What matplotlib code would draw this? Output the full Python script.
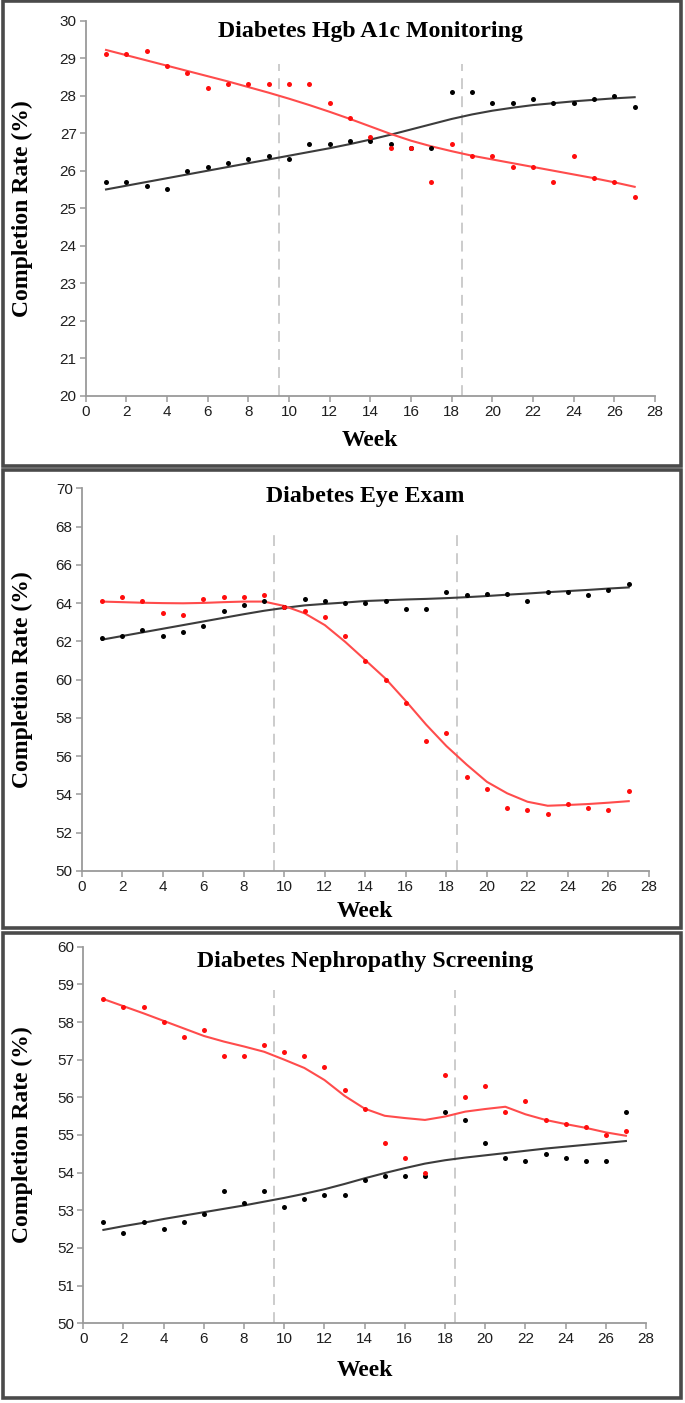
import matplotlib
matplotlib.use('Agg')
import matplotlib.pyplot as plt
from matplotlib.patches import Rectangle

# data
weeks = list(range(1, 28))

a1c_black = [25.7, 25.7, 25.6, 25.5, 26.0, 26.1, 26.2, 26.3, 26.4, 26.3, 26.7, 26.7, 26.8, 26.8,
             26.7, 26.6, 26.6, 28.1, 28.1, 27.8, 27.8, 27.9, 27.8, 27.8, 27.9, 28.0, 27.7]
a1c_red = [29.1, 29.1, 29.2, 28.8, 28.6, 28.2, 28.3, 28.3, 28.3, 28.3, 28.3, 27.8, 27.4, 26.9,
           26.6, 26.6, 25.7, 26.7, 26.4, 26.4, 26.1, 26.1, 25.7, 26.4, 25.8, 25.7, 25.3]
a1c_black_fit = [25.50, 25.60, 25.70, 25.80, 25.90, 26.00, 26.10, 26.20, 26.30, 26.40, 26.50, 26.60,
                 26.71, 26.83, 26.96, 27.10, 27.24, 27.38, 27.50, 27.60, 27.68, 27.75, 27.80, 27.85,
                 27.89, 27.93, 27.96]
a1c_red_fit = [29.22, 29.08, 28.94, 28.80, 28.66, 28.52, 28.38, 28.23, 28.08, 27.92, 27.75, 27.57,
               27.38, 27.18, 26.98, 26.80, 26.65, 26.52, 26.40, 26.30, 26.20, 26.10, 26.00, 25.90,
               25.80, 25.69, 25.57]

eye_black = [62.2, 62.3, 62.6, 62.3, 62.5, 62.8, 63.6, 63.9, 64.1, 63.8, 64.2, 64.1, 64.0, 64.0,
             64.1, 63.7, 63.7, 64.6, 64.4, 64.5, 64.5, 64.1, 64.6, 64.6, 64.4, 64.7, 65.0]
eye_red = [64.1, 64.3, 64.1, 63.5, 63.4, 64.2, 64.3, 64.3, 64.4, 63.8, 63.6, 63.3, 62.3, 61.0,
           60.0, 58.8, 56.8, 57.2, 54.9, 54.3, 53.3, 53.2, 53.0, 53.5, 53.3, 53.2, 54.2]
eye_black_fit = [62.09, 62.28, 62.47, 62.66, 62.85, 63.04, 63.23, 63.42, 63.60, 63.75, 63.88, 63.96,
                 64.03, 64.11, 64.15, 64.19, 64.22, 64.26, 64.31, 64.37, 64.44, 64.50, 64.57, 64.63,
                 64.69, 64.76, 64.82]
eye_red_fit = [64.08, 64.05, 64.02, 64.00, 63.99, 64.01, 64.05, 64.08, 64.08, 63.85, 63.47, 62.85,
               61.98, 61.02, 60.05, 58.88, 57.65, 56.53, 55.56, 54.66, 54.06, 53.62, 53.41, 53.45,
               53.50, 53.57, 53.65]

neph_black = [52.7, 52.4, 52.7, 52.5, 52.7, 52.9, 53.5, 53.2, 53.5, 53.1, 53.3, 53.4, 53.4, 53.8,
              53.9, 53.9, 53.9, 55.6, 55.4, 54.8, 54.4, 54.3, 54.5, 54.4, 54.3, 54.3, 55.6]
neph_red = [58.6, 58.4, 58.4, 58.0, 57.6, 57.8, 57.1, 57.1, 57.4, 57.2, 57.1, 56.8, 56.2, 55.7,
            54.8, 54.4, 54.0, 56.6, 56.0, 56.3, 55.6, 55.9, 55.4, 55.3, 55.2, 55.0, 55.1]
neph_black_fit = [52.48, 52.58, 52.67, 52.77, 52.86, 52.95, 53.04, 53.13, 53.23, 53.33, 53.44, 53.56,
                  53.70, 53.85, 53.99, 54.12, 54.24, 54.33, 54.40, 54.46, 54.52, 54.58, 54.64, 54.69,
                  54.74, 54.79, 54.84]
neph_red_fit = [58.61, 58.42, 58.23, 58.03, 57.83, 57.63, 57.48, 57.35, 57.21, 57.00, 56.78, 56.46,
                56.04, 55.70, 55.51, 55.45, 55.40, 55.49, 55.62, 55.69, 55.75, 55.55, 55.40, 55.29,
                55.19, 55.07, 54.98]

titles = ['Diabetes Hgb A1c Monitoring', 'Diabetes Eye Exam', 'Diabetes Nephropathy Screening']
cutoffs = [9.5, 18.5]

W, H = 685, 1403
fig = plt.figure(figsize=(W / 100, H / 100), dpi=100)


def px_axes(x0, x1, ytop, ybot):
    return fig.add_axes([x0 / W, 1 - ybot / H, (x1 - x0) / W, (ybot - ytop) / H])


panels = [
    dict(box=(3, 1, 681, 466), ax=(85.7, 655, 20.7, 395.7), ylim=(20, 30), step=1,
         black=a1c_black, red=a1c_red, bfit=a1c_black_fit, rfit=a1c_red_fit, ty=0.9725, xl=-0.12),
    dict(box=(3, 470, 681, 928), ax=(81.7, 649, 488.3, 871), ylim=(50, 70), step=2,
         black=eye_black, red=eye_red, bfit=eye_black_fit, rfit=eye_red_fit, ty=0.978, xl=-0.105),
    dict(box=(3, 933, 681, 1398), ax=(83.3, 646, 946.7, 1323.3), ylim=(50, 60), step=1,
         black=neph_black, red=neph_red, bfit=neph_black_fit, rfit=neph_red_fit, ty=0.96, xl=-0.126),
]

for p, title in zip(panels, titles):
    bx0, by0, bx1, by1 = p['box']
    fig.patches.append(Rectangle((bx0 / W, 1 - by1 / H), (bx1 - bx0) / W, (by1 - by0) / H,
                                 transform=fig.transFigure, fill=False,
                                 edgecolor='#4a4a4a', linewidth=2.6))
    x0, x1, ytop, ybot = p['ax']
    ax = px_axes(x0, x1, ytop, ybot)
    lo, hi = p['ylim']
    ax.set_xlim(0, 28)
    ax.set_ylim(lo, hi)
    ax.set_xticks(range(0, 29, 2))
    ax.set_yticks(range(lo, hi + 1, p['step']))
    for s in ['top', 'right']:
        ax.spines[s].set_visible(False)
    for s in ['left', 'bottom']:
        ax.spines[s].set_color('#9a9a9a')
        ax.spines[s].set_linewidth(1.3)
    ax.tick_params(direction='out', length=4.5, width=1.1, color='#9a9a9a', pad=2,
                   labelsize=11, labelcolor='#1e1e1e')
    for lab in ax.get_xticklabels() + ax.get_yticklabels():
        lab.set_fontfamily('Liberation Sans')

    for c in cutoffs:
        ax.axvline(c, ymin=0, ymax=0.885, color='#c8c8c8', lw=1.3, dashes=(6, 4))

    ax.plot(weeks, p['bfit'], color='#3c3c3c', lw=1.5, zorder=3)
    ax.plot(weeks, p['rfit'], color='#ff4c4c', lw=1.5, zorder=3)
    ax.plot(weeks, p['black'], 'o', color='black', ms=3.6, mew=0, zorder=4, clip_on=False)
    ax.plot(weeks, p['red'], 'o', color='#ff0d0d', ms=3.6, mew=0, zorder=5, clip_on=False)

    ax.text(0.5, p['ty'], title, transform=ax.transAxes, ha='center', va='center',
            fontsize=17.2, fontweight='bold', family='Liberation Serif')
    ax.set_ylabel('Completion Rate (%)', fontsize=17, fontweight='bold', family='Liberation Serif',
                  va='center')
    ax.yaxis.set_label_coords((22 - x0) / (x1 - x0), 0.5)
    ax.set_xlabel('Week', fontsize=17, fontweight='bold', family='Liberation Serif')
    ax.xaxis.set_label_coords(0.5, p['xl'])
    ax.xaxis.label.set_va('center')

fig.savefig('out.png', dpi=100)
